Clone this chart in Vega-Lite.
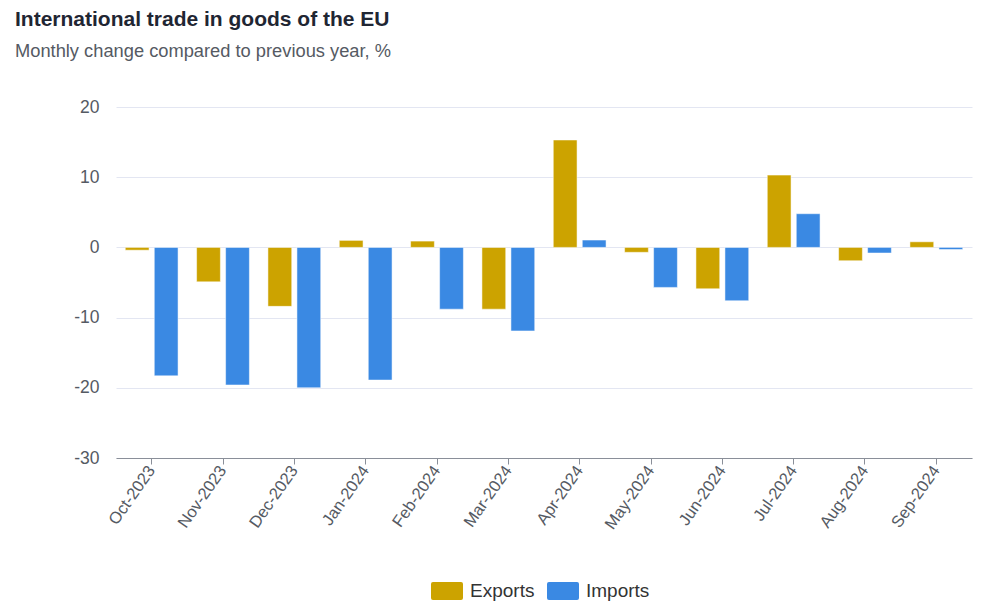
{
  "$schema": "https://vega.github.io/schema/vega-lite/v6.json",
  "autosize": "none",
  "width": 856,
  "height": 351,
  "padding": {"left": 116, "top": 107, "right": 28, "bottom": 150},
  "background": "white",
  "title": {
    "text": "International trade in goods of the EU",
    "subtitle": "Monthly change compared to previous year, %",
    "anchor": "start",
    "frame": "group",
    "dx": -101,
    "offset": 38,
    "font": "Liberation Sans",
    "fontSize": 21,
    "fontWeight": "bold",
    "color": "#1f2633",
    "subtitleFont": "Liberation Sans",
    "subtitleFontSize": 18.3,
    "subtitleColor": "#555a63",
    "subtitlePadding": 13
  },
  "data": {
    "values": [
      {"month": "Oct-2023", "flow": "Exports", "value": -0.4},
      {"month": "Oct-2023", "flow": "Imports", "value": -18.3},
      {"month": "Nov-2023", "flow": "Exports", "value": -4.9},
      {"month": "Nov-2023", "flow": "Imports", "value": -19.6},
      {"month": "Dec-2023", "flow": "Exports", "value": -8.4},
      {"month": "Dec-2023", "flow": "Imports", "value": -20.0},
      {"month": "Jan-2024", "flow": "Exports", "value": 1.0},
      {"month": "Jan-2024", "flow": "Imports", "value": -18.9},
      {"month": "Feb-2024", "flow": "Exports", "value": 0.9},
      {"month": "Feb-2024", "flow": "Imports", "value": -8.8},
      {"month": "Mar-2024", "flow": "Exports", "value": -8.8},
      {"month": "Mar-2024", "flow": "Imports", "value": -11.9},
      {"month": "Apr-2024", "flow": "Exports", "value": 15.3},
      {"month": "Apr-2024", "flow": "Imports", "value": 1.05},
      {"month": "May-2024", "flow": "Exports", "value": -0.7},
      {"month": "May-2024", "flow": "Imports", "value": -5.7},
      {"month": "Jun-2024", "flow": "Exports", "value": -5.9},
      {"month": "Jun-2024", "flow": "Imports", "value": -7.6},
      {"month": "Jul-2024", "flow": "Exports", "value": 10.3},
      {"month": "Jul-2024", "flow": "Imports", "value": 4.8},
      {"month": "Aug-2024", "flow": "Exports", "value": -1.9},
      {"month": "Aug-2024", "flow": "Imports", "value": -0.8},
      {"month": "Sep-2024", "flow": "Exports", "value": 0.8},
      {"month": "Sep-2024", "flow": "Imports", "value": -0.3}
    ]
  },
  "mark": {"type": "bar", "strokeWidth": 1, "strokeOpacity": 0.5, "stroke": "white"},
  "encoding": {
    "x": {
      "field": "month",
      "type": "nominal",
      "sort": null,
      "title": null,
      "scale": {"paddingInner": 0.26, "paddingOuter": 0.13},
      "axis": {
        "labelAngle": -55,
        "labelFont": "Liberation Sans",
        "labelFontSize": 16.5,
        "labelColor": "#555a63",
        "labelPadding": 3,
        "domainColor": "#8a8f99",
        "tickColor": "#8a8f99",
        "tickSize": 6,
        "grid": false
      }
    },
    "xOffset": {"field": "flow", "type": "nominal", "scale": {"paddingInner": 0.18}},
    "y": {
      "field": "value",
      "type": "quantitative",
      "title": null,
      "scale": {"domain": [-30, 20], "nice": false},
      "axis": {
        "values": [-30, -20, -10, 0, 10, 20],
        "labelExpr": "toString(datum.value)",
        "domain": false,
        "ticks": false,
        "labelFont": "Liberation Sans",
        "labelFontSize": 17.5,
        "labelColor": "#555a63",
        "labelPadding": 17,
        "gridColor": "#e3e6f2",
        "gridWidth": 1
      }
    },
    "color": {
      "field": "flow",
      "type": "nominal",
      "title": null,
      "scale": {"domain": ["Exports", "Imports"], "range": ["#cca300", "#3a89e3"]},
      "legend": {
        "orient": "none",
        "legendX": 315,
        "legendY": 468,
        "direction": "horizontal",
        "symbolType": "M-0.88,-0.56H0.88Q1,-0.56 1,-0.44V0.44Q1,0.56 0.88,0.56H-0.88Q-1,0.56 -1,0.44V-0.44Q-1,-0.56 -0.88,-0.56Z",
        "symbolSize": 1024,
        "symbolStrokeWidth": 0,
        "symbolOpacity": 1,
        "labelFont": "Liberation Sans",
        "labelFontSize": 19,
        "labelColor": "#333",
        "columnPadding": 12,
        "labelOffset": 7
      }
    }
  },
  "config": {"view": {"stroke": null}}
}
